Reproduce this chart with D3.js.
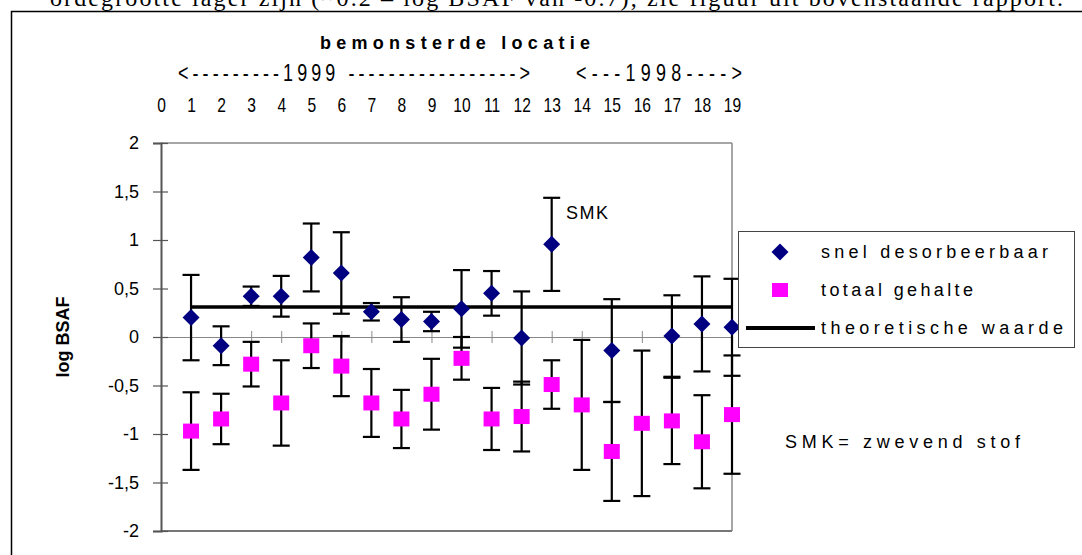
<!DOCTYPE html>
<html>
<head>
<meta charset="utf-8">
<script src="https://cdn.jsdelivr.net/npm/d3@7"></script>
<style>
  html, body { margin: 0; padding: 0; background: #fff; }
  svg { display: block; }
  text { font-family: "Liberation Sans", Arial, sans-serif; fill: #000; }
</style>
</head>
<body>
<svg id="chart" width="1082" height="555"></svg>
<script>
// ---- data ----
const locations = [1,2,3,4,5,6,7,8,9,10,11,12,13,14,15,16,17,18,19];
const topTickLabels = [0,1,2,3,4,5,6,7,8,9,10,11,12,13,14,15,16,17,18,19];
const yTickValues = [-2,-1.5,-1,-0.5,0,0.5,1,1.5,2];
const snelDesorbeerbaar = [0.20,-0.09,0.42,0.42,0.82,0.66,0.26,0.18,0.16,0.29,0.45,-0.01,0.955,null,-0.14,null,0.01,0.135,0.10];
const snelErr =           [0.44,0.20,0.10,0.21,0.35,0.42,0.09,0.23,0.10,0.40,0.23,0.48,0.48,null,0.53,null,0.42,0.49,0.50];
const totaalGehalte = [-0.97,-0.845,-0.28,-0.68,-0.09,-0.30,-0.68,-0.845,-0.59,-0.22,-0.845,-0.82,-0.49,-0.70,-1.18,-0.89,-0.865,-1.08,-0.80];
const totaalErr =     [0.40,0.26,0.23,0.44,0.23,0.31,0.35,0.30,0.365,0.22,0.32,0.36,0.25,0.67,0.51,0.75,0.445,0.48,0.61];
const theoretischeWaarde = 0.31;
const theoreticalRange = [1, 19];
const legendLabels = ["snel desorbeerbaar", "totaal gehalte", "theoretische waarde"];

const svg = d3.select("#chart");
const condense = 0.78;

// caption from surrounding document (cut off at top, as in the source)
svg.append("text")
  .attr("x", 50).attr("y", 6)
  .attr("textLength", 1013).attr("lengthAdjust", "spacing")
  .style("font-family", "'Liberation Serif', 'Times New Roman', serif")
  .style("font-size", "24px")
  .text("ordegrootte lager zijn (~0.2 – log BSAF van -0.7), zie figuur uit bovenstaande rapport.");

// outer frame
svg.append("line").attr("x1", 11).attr("x2", 1082).attr("y1", 11.5).attr("y2", 11.5)
  .attr("stroke", "#000").attr("stroke-width", 1.5);
svg.append("line").attr("x1", 11.5).attr("x2", 11.5).attr("y1", 11).attr("y2", 555)
  .attr("stroke", "#000").attr("stroke-width", 1.5);

const x = d3.scaleLinear().domain([0, 19]).range([161, 732]);
const y = d3.scaleLinear().domain([-2, 2]).range([531, 143]);

// plot border (top, right, bottom)
svg.append("line").attr("x1", x(0)).attr("x2", x(19)).attr("y1", y(2)).attr("y2", y(2))
  .attr("stroke", "#888").attr("stroke-width", 1.5);
svg.append("line").attr("x1", x(19)).attr("x2", x(19)).attr("y1", y(2)).attr("y2", y(-2))
  .attr("stroke", "#888").attr("stroke-width", 1.5);
svg.append("line").attr("x1", x(0)).attr("x2", x(19)).attr("y1", y(-2)).attr("y2", y(-2))
  .attr("stroke", "#777").attr("stroke-width", 2);

// zero-line axis with crossing ticks
const xAxisZero = svg.append("g")
  .attr("transform", `translate(0,${y(0)})`)
  .call(d3.axisBottom(x).tickValues(locations).tickFormat("").tickSizeOuter(0).tickSize(6));
xAxisZero.select(".domain").attr("stroke", "#888").attr("stroke-width", 1.2);
xAxisZero.selectAll(".tick line").attr("y1", -6).attr("y2", 6).attr("stroke", "#888");

// left y axis
const yAxis = svg.append("g")
  .attr("transform", `translate(${x(0)},0)`)
  .call(d3.axisLeft(y).tickValues(yTickValues).tickSizeOuter(0).tickSize(8).tickPadding(14)
    .tickFormat(d => String(d).replace(".", ",")));
yAxis.select(".domain").attr("stroke", "#555").attr("stroke-width", 2);
yAxis.selectAll(".tick line").attr("x1", -8).attr("x2", 7).attr("stroke", "#555").attr("stroke-width", 1.2);
yAxis.selectAll(".tick text")
  .style("font-size", "18px").attr("fill", "#000");

// top category labels (condensed glyphs)
const topAxis = svg.append("g")
  .attr("transform", `translate(0,112)`)
  .call(d3.axisTop(x).tickValues(topTickLabels).tickSize(0).tickPadding(0).tickFormat(d => String(d)));
topAxis.select(".domain").remove();
topAxis.selectAll(".tick text")
  .attr("transform", `scale(${condense},1)`)
  .style("font-size", "20px").attr("fill", "#000");

// titles
svg.append("text").attr("x", 320).attr("y", 49)
  .attr("textLength", 270).attr("lengthAdjust", "spacing")
  .style("font-size", "18px").style("font-weight", "bold")
  .text("bemonsterde locatie");
svg.append("text")
  .attr("transform", `translate(178,81) scale(${condense},1)`)
  .attr("textLength", 352 / condense).attr("lengthAdjust", "spacing")
  .style("font-size", "23px")
  .text("<---------1999 ----------------->");
svg.append("text")
  .attr("transform", `translate(576,81) scale(${condense},1)`)
  .attr("textLength", 166 / condense).attr("lengthAdjust", "spacing")
  .style("font-size", "23px")
  .text("<---1998---->");

svg.append("text")
  .attr("transform", `translate(69,${y(0)}) rotate(-90)`)
  .attr("text-anchor", "middle")
  .style("font-size", "18px").style("font-weight", "bold")
  .text("log BSAF");

// theoretical line
svg.append("line")
  .attr("x1", x(theoreticalRange[0])).attr("x2", x(theoreticalRange[1]))
  .attr("y1", y(theoretischeWaarde)).attr("y2", y(theoretischeWaarde))
  .attr("stroke", "#000").attr("stroke-width", 3.5);

// error bars
function drawErr(values, errs) {
  const g = svg.append("g");
  locations.forEach((loc, i) => {
    const v = values[i], e = errs[i];
    if (v == null || e == null) return;
    const cx = x(loc), capW = 8.5;
    g.append("line").attr("x1", cx).attr("x2", cx).attr("y1", y(v + e)).attr("y2", y(v - e))
      .attr("stroke", "#000").attr("stroke-width", 2.2);
    [v + e, v - e].forEach(t => {
      g.append("line").attr("x1", cx - capW).attr("x2", cx + capW).attr("y1", y(t)).attr("y2", y(t))
        .attr("stroke", "#000").attr("stroke-width", 2.2);
    });
  });
}
drawErr(snelDesorbeerbaar, snelErr);
drawErr(totaalGehalte, totaalErr);

// markers
const diamond = (cx, cy, r) => `M${cx},${cy - r}L${cx + r},${cy}L${cx},${cy + r}L${cx - r},${cy}Z`;
svg.append("g").selectAll("rect")
  .data(locations.map((l, i) => ({ l, v: totaalGehalte[i] })).filter(d => d.v != null))
  .join("rect")
  .attr("x", d => x(d.l) - 8).attr("y", d => y(d.v) - 7.5)
  .attr("width", 16).attr("height", 15)
  .attr("fill", "#ff00ff");
svg.append("g").selectAll("path")
  .data(locations.map((l, i) => ({ l, v: snelDesorbeerbaar[i] })).filter(d => d.v != null))
  .join("path")
  .attr("d", d => diamond(x(d.l), y(d.v), 8.5))
  .attr("fill", "#000080");

// SMK annotation
svg.append("text").attr("x", 566).attr("y", 219)
  .style("font-size", "18px").style("letter-spacing", "1.5px").text("SMK");

// legend
const lg = svg.append("g");
lg.append("rect").attr("x", 738.5).attr("y", 231.5).attr("width", 336).attr("height", 116)
  .attr("fill", "#fff").attr("stroke", "#444").attr("stroke-width", 1);
lg.append("path").attr("d", diamond(780, 252, 8.5)).attr("fill", "#000080");
lg.append("rect").attr("x", 772).attr("y", 283).attr("width", 16).attr("height", 14).attr("fill", "#ff00ff");
lg.append("line").attr("x1", 746).attr("x2", 815).attr("y1", 328).attr("y2", 328)
  .attr("stroke", "#000").attr("stroke-width", 4);
const legendY = [258, 296, 334];
const legendW = [227, 152, 242];
legendLabels.forEach((t, i) => {
  lg.append("text").attr("x", 821).attr("y", legendY[i])
    .attr("textLength", legendW[i]).attr("lengthAdjust", "spacing")
    .style("font-size", "18px").text(t);
});

svg.append("text").attr("x", 785).attr("y", 448)
  .attr("textLength", 235).attr("lengthAdjust", "spacing")
  .style("font-size", "18px").text("SMK= zwevend stof");
</script>
</body>
</html>
